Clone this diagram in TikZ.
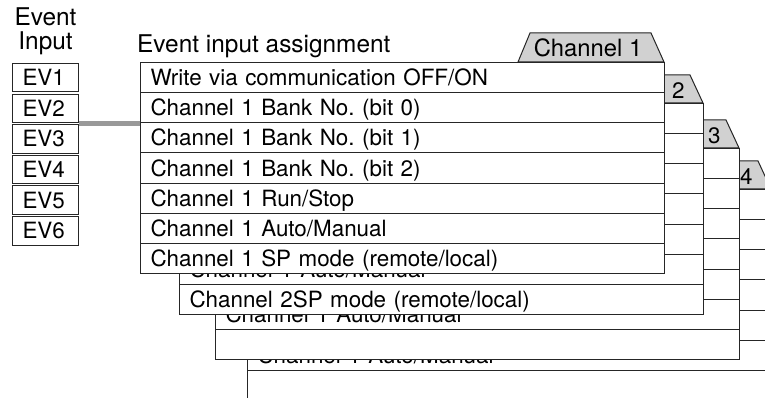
\documentclass[tikz,border=0pt]{standalone}
\usepackage{fontspec}
\setmainfont{TeX Gyre Heros}
\usetikzlibrary{positioning}
\frenchspacing

\begin{document}
\begin{tikzpicture}
[x=1pt, y=-1pt,
    font=\fontsize{22.4}{23.3}\selectfont,
    every node/.style={inner sep=0pt},
    headtext/.style={font=\fontsize{24.4}{23.5}\selectfont},
    rowbox/.style={draw=black!85, fill=white, line width=1pt, anchor=north west,
        minimum width=524pt, minimum height=30.15pt, text width=504pt,
        inner xsep=10pt, align=left, text height=16pt, text depth=0pt},
    evbox/.style={draw=black!85, fill=white, line width=1pt,
        minimum width=66pt, minimum height=28.5pt, text width=46pt,
        inner xsep=10pt, align=left, text height=16pt, text depth=0pt},
    tabshape/.style={draw=black!85, fill=black!18, line width=1pt},
    evlink/.style={draw=black!40, line width=5pt}
    ]
    \useasboundingbox (0,0) rectangle (765,398);
    \clip (0,0) rectangle (765,398);

    % event inputs
    \node[evbox, anchor=north west] (ev1) at (12,63) {EV1};
    \foreach \i [count=\j from 1] in {2,...,6}
        \node[evbox, below=1.1pt of ev\j] (ev\i) {EV\i};
    \node[headtext, align=center, above=8pt of ev1] (evhead) {Event\\Input};
    \node[headtext, anchor=base west] (assignhead) at (137,52.5) {Event input assignment};

    % channels 4, 3, 2 (back to front)
    \foreach \p/\px/\py/\lastrow in {4/247/189/{}, 3/215/148/{},
            2/179/103/{Channel 2SP mode (remote/local)}}{
        \draw[tabshape] (\px+472,\py) -- (\px+484,\py-28) -- (\px+511,\py-28)
            -- (\px+524,\py) -- cycle;
        \node[anchor=base west] (tab\p) at (\px+493,\py-4) {\p};
        \foreach \r/\rowtext in {1/{}, 2/{}, 3/{}, 4/{}, 5/{},
                6/{Channel 1 Auto/Manual}, 7/{\lastrow}}
            \node[rowbox] (p\p r\r) at (\px,{\py+30.15*(\r-1)}) {\rowtext};
    }

    % channel 1
    \draw[tabshape] (518,62) -- (530,33) -- (651,33) -- (664,62) -- cycle;
    \node[font=\fontsize{23.8}{25}\selectfont, anchor=base] (tab1) at (588,57) {Channel 1};
    \foreach \r/\rowtext in {1/{Write via communication OFF/ON},
            2/{Channel 1 Bank No. (bit 0)}, 3/{Channel 1 Bank No. (bit 1)},
            4/{Channel 1 Bank No. (bit 2)}, 5/{Channel 1 Run/Stop},
            6/{Channel 1 Auto/Manual}, 7/{Channel 1 SP mode (remote/local)}}
        \node[rowbox] (p1r\r) at (140,{62+30.15*(\r-1)}) {\rowtext};

    \draw[evlink] (p1r2.south west) -- (p1r2.south west -| ev2.east);
\end{tikzpicture}
\end{document}
